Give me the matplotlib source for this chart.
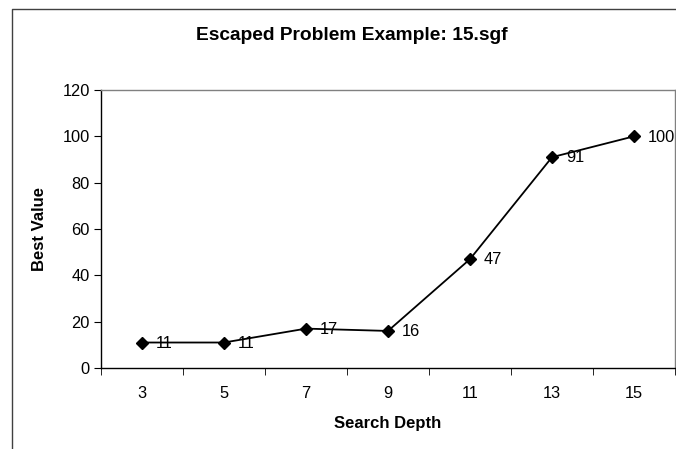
import matplotlib
matplotlib.use("Agg")
import matplotlib.pyplot as plt
from matplotlib.lines import Line2D

plt.rcParams['font.family'] = ['Liberation Sans', 'DejaVu Sans']

depths = ["3", "5", "7", "9", "11", "13", "15"]
best_values = [11, 11, 17, 16, 47, 91, 100]
y_ticks = [0, 20, 40, 60, 80, 100, 120]

W, H = 676, 449
fig = plt.figure(figsize=(W / 100, H / 100), dpi=100)

# plot area in pixels: left 101, right 675, top 90, bottom 368
l, r, t, b = 101, 675, 90, 368
ax = fig.add_axes([l / W, 1 - b / H, (r - l) / W, (b - t) / H])

x = list(range(len(depths)))
ax.plot(x, best_values, color='black', lw=1.3, marker='D', markersize=6,
        markerfacecolor='black', markeredgecolor='black')
for xi, v in zip(x, best_values):
    ax.annotate(str(v), (xi, v), xytext=(10, -0.5), textcoords='offset points',
                ha='left', va='center', fontsize=11.8)

ax.set_xlim(-0.5, len(depths) - 0.5)
ax.set_ylim(0, 120)
ax.set_yticks(y_ticks)
ax.set_xticks(x)
ax.set_xticklabels(depths, fontsize=11.8)
ax.tick_params(axis='x', length=0, pad=13)
ax.set_xticks([i - 0.5 for i in range(len(depths) + 1)], minor=True)
ax.tick_params(axis='x', which='minor', length=5, direction='out', color='black')
ax.tick_params(axis='y', length=5, direction='out', labelsize=11.8, pad=3)

for side in ['left', 'bottom']:
    ax.spines[side].set_color('black')
    ax.spines[side].set_linewidth(1.0)
for side in ['top', 'right']:
    ax.spines[side].set_color('#808080')
    ax.spines[side].set_linewidth(1.0)

ax.set_xlabel('Search Depth', fontsize=12, fontweight='bold', labelpad=11)
ax.set_ylabel('Best Value', fontsize=12, fontweight='bold', labelpad=11)

fig.text(352 / W, 1 - 35 / H, 'Escaped Problem Example: 15.sgf', ha='center',
         va='center', fontsize=13.8, fontweight='bold')

# chart area border (left and top visible)
fig.add_artist(Line2D([12 / W, 12 / W, 1.0], [0.0, 1 - 9 / H, 1 - 9 / H],
                      transform=fig.transFigure, color='#404040', lw=1.0))

fig.savefig('out.png', dpi=100)
